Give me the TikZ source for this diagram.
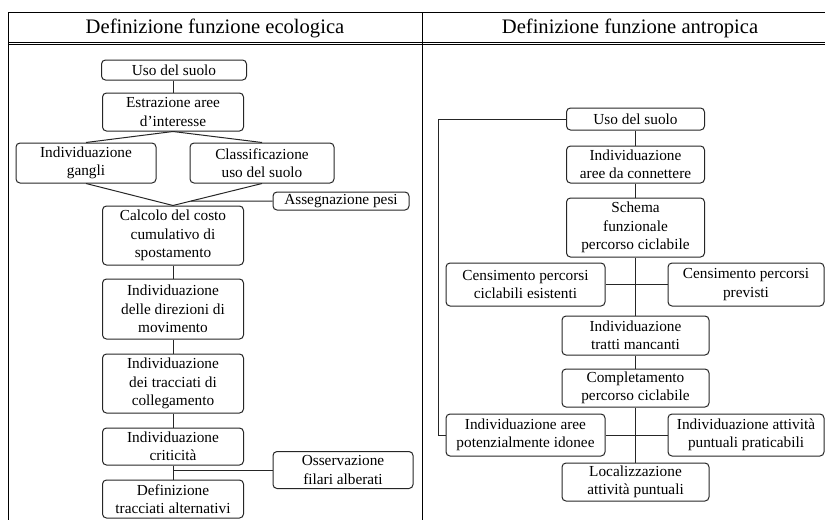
\documentclass[tikz,border=0pt]{standalone}
\usepackage{fontspec}
\setmainfont{Liberation Serif}
\usepackage{tikz}

\begin{document}
\begin{tikzpicture}[
	x = 0.5pt, y = -0.5pt,
	frame/.style={black, line width=0.5pt},
	link/.style={black!85, line width=0.5pt},
	header/.style={font=\fontsize{10.3}{12.4}\selectfont, inner sep=0pt},
	stage/.style 2 args={draw=black!85, line width=0.5pt, rounded corners=2pt, align=center,
		inner sep=0pt, minimum width=#1, minimum height=#2,
		font=\fontsize{7.65}{9.15}\selectfont},
	]
	\useasboundingbox (0,0) rectangle (825,520);

	% tabella
	\draw[frame] (8,12) -- (825,12);
	\draw[frame] (8,42) -- (825,42);
	\draw[frame] (8,44.5) -- (825,44.5);
	\draw[frame] (8,12) -- (8,520);
	\draw[frame] (422,12) -- (422,520);
	\node (eco) [header] at (215,28) {Definizione funzione ecologica};
	\node (antro) [header] at (630,28) {Definizione funzione antropica};

	% funzione ecologica
	\node (uso1) [stage={72.5pt}{10pt}] at (174,70) {Uso del suolo};
	\node (estr) [stage={70.5pt}{19pt}] at (173,112) {Estrazione aree\\d'interesse};
	\node (gangli) [stage={70pt}{20pt}] at (86,163) {Individuazione\\gangli};
	\node (class) [stage={72pt}{20pt}] at (262,163) {Classificazione\\uso del suolo};
	\node (pesi) [stage={68pt}{9pt}] at (341,201) {Assegnazione pesi};
	\node (calc) [stage={70.5pt}{29.5pt}] at (173,235.5) {Calcolo del costo\\cumulativo di\\spostamento};
	\node (dir) [stage={70.5pt}{30pt}] at (173,309) {Individuazione\\delle direzioni di\\movimento};
	\node (tracc) [stage={70.5pt}{29.5pt}] at (173,383.5) {Individuazione\\dei tracciati di\\collegamento};
	\node (crit) [stage={70.5pt}{18.5pt}] at (173,446.5) {Individuazione\\criticità};
	\node (defi) [stage={70.5pt}{19pt}] at (173,499) {Definizione\\tracciati alternativi};
	\node (oss) [stage={70pt}{18.5pt}] at (343,470) {Osservazione\\filari alberati};

	\draw[link] (uso1.south -| estr.north) -- (estr.north);
	\draw[link] (estr.south) -- (gangli.north);
	\draw[link] (estr.south) -- (class.north);
	\draw[link] (gangli.south) -- (calc.north);
	\draw[link] (class.south) -- (calc.north);
	\coordinate (pesiin) at (intersection of class.south--calc.north and pesi.west--pesi.east);
	\draw[link] (pesi.west) -- (pesiin);
	\draw[link] (calc) -- (dir);
	\draw[link] (dir) -- (tracc);
	\draw[link] (tracc) -- (crit);
	\draw[link] (crit) -- (defi);
	\draw[link] (oss.west) -- (oss.west -| crit.south);

	% funzione antropica
	\node (uso2) [stage={69pt}{11pt}] at (635.5,119) {Uso del suolo};
	\node (aree) [stage={69pt}{18.5pt}] at (635.5,164.5) {Individuazione\\aree da connettere};
	\node (schema) [stage={69pt}{29.5pt}] at (635.5,227.5) {Schema\\funzionale\\percorso ciclabile};
	\node (cens1) [stage={79.5pt}{21.5pt}] at (525.5,284.5) {Censimento percorsi\\ciclabili esistenti};
	\node (cens2) [stage={78pt}{21.5pt}] at (746,284.5) {Censimento percorsi\\previsti};
	\node (tratti) [stage={73.5pt}{19.5pt}] at (635.5,335.5) {Individuazione\\tratti mancanti};
	\node (compl) [stage={73.5pt}{19pt}] at (635.5,388) {Completamento\\percorso ciclabile};
	\node (idonee) [stage={79.5pt}{21pt}] at (525.5,435) {Individuazione aree\\potenzialmente idonee};
	\node (prat) [stage={78pt}{21pt}] at (746,435) {Individuazione attività\\puntuali praticabili};
	\node (loc) [stage={73.5pt}{19pt}] at (635.5,482) {Localizzazione\\attività puntuali};
	\coordinate (bend) at (438,119);

	\draw[link] (uso2) -- (aree);
	\draw[link] (aree) -- (schema);
	\draw[link] (schema) -- (tratti);
	\draw[link] (tratti) -- (compl);
	\draw[link] (compl) -- (loc);
	\draw[link] (cens1.east) -- (cens2.west);
	\draw[link] (idonee.east) -- (prat.west);
	\draw[link] (uso2.west) -- (bend) |- (idonee.west);
\end{tikzpicture}
\end{document}
